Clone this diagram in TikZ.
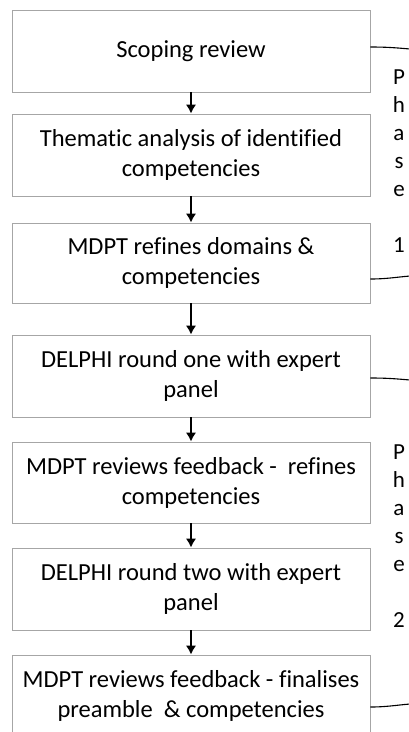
\documentclass[tikz,border=0pt]{standalone}
\usepackage{fontspec}
\setmainfont[Ligatures=NoCommon]{Carlito}
\usetikzlibrary{arrows.meta}
\begin{document}
\begin{tikzpicture}[x=1pt,y=1pt]
        \useasboundingbox (0,0) rectangle (409,-732);
        \clip (0,0) rectangle (409,-732);
        \tikzstyle{every node}=[draw=gray!70, line width=0.9pt, minimum width=358pt, align=center,
                font=\fontsize{24.5}{30}\selectfont]
        \node[minimum height=82pt] (scoping)  at (191, -51)  {Scoping review};
        \node[minimum height=82pt] (thematic) at (191, -155) {Thematic analysis of identified\\competencies};
        \node[minimum height=80pt] (refine)   at (191, -263) {MDPT refines domains \&\\competencies};
        \node[minimum height=82pt] (roundone) at (191, -376) {DELPHI round one with expert\\panel};
        \node[minimum height=81pt] (reviewone) at (191, -482.5) {MDPT reviews feedback -~ refines\\competencies};
        \node[minimum height=82pt] (roundtwo) at (191, -589) {DELPHI round two with expert\\panel};
        \node[minimum height=82pt] (final)    at (191, -696) {MDPT reviews feedback - finalises\\preamble ~\& competencies};
        \tikzstyle{every node}=[draw=none, align=center, font=\fontsize{23}{28}\selectfont]
        \node (phaseone) at (399, -161) {P\\h\\a\\s\\e\\[28pt]1};
        \node (phasetwo) at (399, -536) {P\\h\\a\\s\\e\\[28pt]2};
        \coordinate (onetop) at (410, -49);
        \coordinate (onebot) at (410, -276);
        \coordinate (twotop) at (410, -380);
        \coordinate (twobot) at (410, -704);
        % arrows between steps
        \tikzstyle{step arrow}=[-{Latex[length=9pt,width=10.5pt]}, line width=2.6pt]
        \draw[step arrow] (scoping) -- (thematic);
        \draw[step arrow] (thematic) -- (refine);
        \draw[step arrow] (refine) -- (roundone);
        \draw[step arrow] (roundone) -- (reviewone);
        \draw[step arrow] (reviewone) -- (roundtwo);
        \draw[step arrow] (roundtwo) -- (final);
        % brace ends for the phases
        \draw[line width=1.1pt] (scoping.east |- 0,-47) to[out=0, in=175] (onetop);
        \draw[line width=1.1pt] (refine.east |- 0,-279) to[out=0, in=185] (onebot);
        \draw[line width=1.1pt] (roundone.east |- 0,-378) to[out=0, in=175] (twotop);
        \draw[line width=1.1pt] (final.east |- 0,-707) to[out=0, in=185] (twobot);
    \end{tikzpicture}
\end{document}
